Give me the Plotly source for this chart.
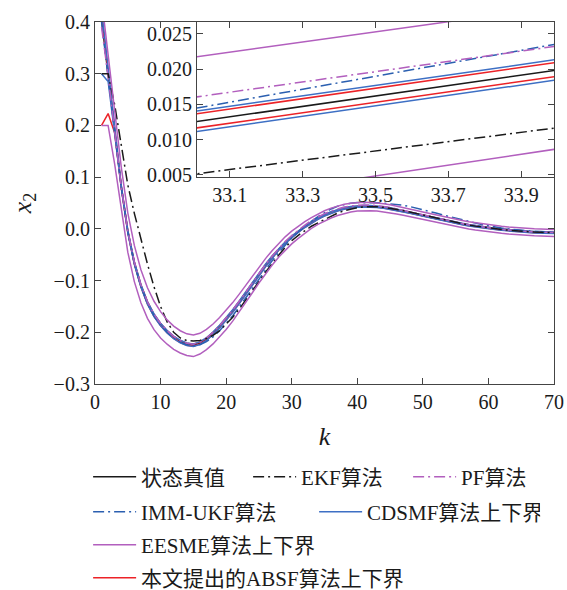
import plotly.graph_objects as go

k = list(range(1, 71))

true_x2 = [0.405, 0.298, 0.190, 0.082, -0.005, -0.066, -0.110, -0.143, -0.167, -0.185,
           -0.199, -0.210, -0.218, -0.223, -0.225, -0.221, -0.213, -0.202, -0.189, -0.175,
           -0.159, -0.142, -0.124, -0.106, -0.088, -0.071, -0.055, -0.040, -0.027, -0.0155,
           -0.0055, 0.0040, 0.0125, 0.0199, 0.0262, 0.0315, 0.0358, 0.0392, 0.0416, 0.0431,
           0.0437, 0.0435, 0.0426, 0.0411, 0.0391, 0.0367, 0.0341, 0.0313, 0.0284, 0.0255,
           0.0226, 0.0197, 0.0169, 0.0142, 0.0116, 0.0092, 0.0070, 0.0050, 0.0031, 0.0014,
           -0.0001, -0.0015, -0.0028, -0.0040, -0.0050, -0.0058, -0.0065, -0.0070, -0.0074, -0.0077]

ekf = [0.300, 0.300, 0.240, 0.160, 0.085, 0.030, -0.020, -0.068, -0.112, -0.150,
       -0.180, -0.200, -0.211, -0.216, -0.217, -0.216, -0.212, -0.206, -0.197, -0.185,
       -0.171, -0.155, -0.138, -0.120, -0.102, -0.084, -0.067, -0.051, -0.036, -0.023,
       -0.0125, -0.0030, 0.0051, 0.0117, 0.0185, 0.0250, 0.0305, 0.0350, 0.0385, 0.0410,
       0.0425, 0.0430, 0.0427, 0.0417, 0.0400, 0.0378, 0.0353, 0.0325, 0.0296, 0.0266,
       0.0236, 0.0206, 0.0177, 0.0149, 0.0122, 0.0097, 0.0074, 0.0053, 0.0034, 0.0017,
       0.0002, -0.0012, -0.0025, -0.0037, -0.0047, -0.0055, -0.0062, -0.0067, -0.0071, -0.0074]

pf = [0.390, 0.295, 0.188, 0.082, -0.004, -0.064, -0.108, -0.141, -0.165, -0.183,
      -0.197, -0.208, -0.216, -0.221, -0.223, -0.219, -0.211, -0.200, -0.187, -0.173,
      -0.157, -0.140, -0.122, -0.104, -0.086, -0.069, -0.053, -0.038, -0.0245, -0.0128,
      -0.0025, 0.0073, 0.0160, 0.0233, 0.0295, 0.0347, 0.0389, 0.0421, 0.0444, 0.0458,
      0.0463, 0.0460, 0.0450, 0.0434, 0.0413, 0.0388, 0.0361, 0.0332, 0.0302, 0.0272,
      0.0242, 0.0212, 0.0183, 0.0155, 0.0128, 0.0103, 0.0080, 0.0059, 0.0039, 0.0021,
      0.0005, -0.0009, -0.0022, -0.0034, -0.0044, -0.0052, -0.0059, -0.0064, -0.0068, -0.0071]

imm_ukf = [0.400, 0.296, 0.188, 0.081, -0.006, -0.067, -0.111, -0.144, -0.168, -0.186,
           -0.200, -0.211, -0.219, -0.224, -0.226, -0.224, -0.218, -0.209, -0.197, -0.183,
           -0.168, -0.151, -0.133, -0.115, -0.097, -0.079, -0.062, -0.046, -0.031, -0.0175,
           -0.0060, 0.0048, 0.0144, 0.0236, 0.0318, 0.0385, 0.0437, 0.0474, 0.0497, 0.0508,
           0.0511, 0.0509, 0.0504, 0.0497, 0.0487, 0.0473, 0.0455, 0.0432, 0.0404, 0.0373,
           0.0340, 0.0306, 0.0272, 0.0238, 0.0205, 0.0173, 0.0142, 0.0112, 0.0084, 0.0058,
           0.0035, 0.0015, -0.0002, -0.0016, -0.0028, -0.0038, -0.0046, -0.0053, -0.0058, -0.0062]

cdsmf_upper = [0.425, 0.310, 0.197, 0.0845, -0.0025, -0.0635, -0.1075, -0.1405, -0.1645, -0.1825,
               -0.1965, -0.2075, -0.2155, -0.2205, -0.2225, -0.2185, -0.2105, -0.1995, -0.1865, -0.1725,
               -0.1565, -0.1395, -0.1215, -0.1035, -0.0855, -0.0685, -0.0525, -0.0385, -0.0255, -0.0140,
               -0.0040, 0.0055, 0.0140, 0.0214, 0.0277, 0.0330, 0.0373, 0.0407, 0.0431, 0.0446,
               0.0452, 0.0450, 0.0441, 0.0426, 0.0406, 0.0382, 0.0356, 0.0328, 0.0299, 0.0270,
               0.0241, 0.0212, 0.0184, 0.0157, 0.0131, 0.0107, 0.0085, 0.0065, 0.0046, 0.0029,
               0.0014, 0.0000, -0.0013, -0.0025, -0.0035, -0.0043, -0.0050, -0.0055, -0.0059, -0.0062]

cdsmf_lower = [0.300, 0.285, 0.184, 0.0795, -0.0075, -0.0685, -0.1125, -0.1455, -0.1695, -0.1875,
               -0.2015, -0.2125, -0.2205, -0.2255, -0.2275, -0.2235, -0.2155, -0.2045, -0.1915, -0.1775,
               -0.1615, -0.1445, -0.1265, -0.1085, -0.0905, -0.0735, -0.0575, -0.0414, -0.0284, -0.0169,
               -0.0069, 0.0026, 0.0111, 0.0185, 0.0248, 0.0301, 0.0344, 0.0378, 0.0402, 0.0417,
               0.0423, 0.0421, 0.0412, 0.0397, 0.0377, 0.0353, 0.0327, 0.0299, 0.0270, 0.0241,
               0.0212, 0.0183, 0.0155, 0.0128, 0.0102, 0.0078, 0.0056, 0.0036, 0.0017, 0.0000,
               -0.0015, -0.0029, -0.0042, -0.0054, -0.0064, -0.0072, -0.0079, -0.0084, -0.0088, -0.0091]

eesme_upper = [0.445, 0.338, 0.230, 0.120, 0.031, -0.032, -0.079, -0.114, -0.140, -0.160,
               -0.176, -0.188, -0.197, -0.203, -0.205, -0.202, -0.1945, -0.184, -0.1715, -0.158,
               -0.1426, -0.1262, -0.1088, -0.0914, -0.0740, -0.0576, -0.0422, -0.0278, -0.0154, -0.0045,
               0.0049, 0.0138, 0.0217, 0.0289, 0.0350, 0.0401, 0.0442, 0.0474, 0.0496, 0.0509,
               0.0513, 0.0510, 0.0500, 0.0485, 0.0464, 0.0440, 0.0413, 0.0385, 0.0355, 0.0326,
               0.0297, 0.0268, 0.0239, 0.0212, 0.0185, 0.0161, 0.0138, 0.0118, 0.0098, 0.0081,
               0.0065, 0.0051, 0.0038, 0.0026, 0.0016, 0.0008, 0.0001, -0.0004, -0.0008, -0.0012]

eesme_lower = [0.200, 0.200, 0.125, 0.037, -0.045, -0.102, -0.143, -0.173, -0.195, -0.211,
               -0.223, -0.233, -0.240, -0.245, -0.247, -0.242, -0.2335, -0.2225, -0.209, -0.1945,
               -0.1785, -0.1608, -0.1422, -0.1235, -0.1048, -0.0872, -0.0705, -0.0548, -0.0412, -0.0290,
               -0.0183, -0.0082, 0.0010, 0.0087, 0.0152, 0.0210, 0.0258, 0.0297, 0.0326, 0.0344,
               0.0352, 0.0352, 0.0345, 0.0331, 0.0312, 0.0289, 0.0264, 0.0237, 0.0209, 0.0180,
               0.0152, 0.0123, 0.0096, 0.0069, 0.0044, 0.0020, -0.0002, -0.0021, -0.0040, -0.0057,
               -0.0071, -0.0085, -0.0098, -0.0110, -0.0120, -0.0128, -0.0135, -0.0140, -0.0144, -0.0147]

absf_upper = [0.415, 0.305, 0.194, 0.0838, -0.0032, -0.0642, -0.1082, -0.1412, -0.1652, -0.1832,
              -0.1972, -0.2082, -0.2162, -0.2212, -0.2232, -0.2192, -0.2112, -0.2002, -0.1872, -0.1732,
              -0.1572, -0.1402, -0.1222, -0.1042, -0.0862, -0.0692, -0.0532, -0.0389, -0.0259, -0.0144,
              -0.0044, 0.0051, 0.0136, 0.0210, 0.0273, 0.0326, 0.0369, 0.0403, 0.0427, 0.0442,
              0.0448, 0.0446, 0.0437, 0.0422, 0.0402, 0.0378, 0.0352, 0.0324, 0.0295, 0.0266,
              0.0237, 0.0208, 0.0180, 0.0153, 0.0127, 0.0103, 0.0081, 0.0061, 0.0042, 0.0025,
              0.0010, -0.0004, -0.0017, -0.0029, -0.0039, -0.0047, -0.0054, -0.0059, -0.0063, -0.0066]

absf_lower = [0.200, 0.223, 0.186, 0.0800, -0.0070, -0.0680, -0.1120, -0.1450, -0.1690, -0.1870,
              -0.2010, -0.2120, -0.2200, -0.2250, -0.2270, -0.2230, -0.2150, -0.2040, -0.1910, -0.1770,
              -0.1610, -0.1440, -0.1260, -0.1080, -0.0900, -0.0730, -0.0570, -0.0409, -0.0279, -0.0164,
              -0.0064, 0.0031, 0.0116, 0.0190, 0.0253, 0.0306, 0.0349, 0.0383, 0.0407, 0.0422,
              0.0428, 0.0426, 0.0417, 0.0402, 0.0382, 0.0358, 0.0332, 0.0304, 0.0275, 0.0246,
              0.0217, 0.0188, 0.0160, 0.0133, 0.0107, 0.0083, 0.0061, 0.0041, 0.0022, 0.0005,
              -0.0010, -0.0024, -0.0037, -0.0049, -0.0059, -0.0067, -0.0074, -0.0079, -0.0083, -0.0086]

main_xticks = [0, 10, 20, 30, 40, 50, 60, 70]
main_yticks = [-0.3, -0.2, -0.1, 0.0, 0.1, 0.2, 0.3, 0.4]
inset_xticks = [33.1, 33.3, 33.5, 33.7, 33.9]
inset_yticks = [0.005, 0.010, 0.015, 0.020, 0.025]

FONT = "Liberation Serif, Noto Sans CJK SC, serif"
BLACK = "#1a1a1a"
PURPLE = "#b25fbe"
BLUE_D = "#2b5fb0"
BLUE = "#3d6fc4"
RED = "#ec2227"
DASHDOT = "11px,4px,2px,4px"

# drawing order (bottom to top)
series = [
    (true_x2, "状态真值", BLACK, "solid", "legend", "true"),
    (absf_upper, "本文提出的ABSF算法上下界", RED, "solid", "legend4", "absf"),
    (absf_lower, "本文提出的ABSF算法上下界", RED, "solid", "legend4", "absf"),
    (cdsmf_upper, "CDSMF算法上下界", BLUE, "solid", "legend2", "cdsmf"),
    (cdsmf_lower, "CDSMF算法上下界", BLUE, "solid", "legend2", "cdsmf"),
    (imm_ukf, "IMM-UKF算法", BLUE_D, DASHDOT, "legend2", "imm"),
    (pf, "PF算法", PURPLE, DASHDOT, "legend", "pf"),
    (ekf, "EKF算法", BLACK, DASHDOT, "legend", "ekf"),
    (eesme_upper, "EESME算法上下界", PURPLE, "solid", "legend3", "eesme"),
    (eesme_lower, "EESME算法上下界", PURPLE, "solid", "legend3", "eesme"),
]

fig = go.Figure()

rank = {"true": 1, "ekf": 2, "pf": 3, "imm": 4, "cdsmf": 5, "eesme": 6, "absf": 7}
shown = set()
for vals, name, color, dash, leg, grp in series:
    show = grp not in shown
    shown.add(grp)
    fig.add_trace(go.Scatter(
        x=k, y=vals, mode="lines", name=name,
        line=dict(color=color, width=1.5, dash=dash),
        legend=leg, showlegend=show, legendgroup=grp, legendrank=rank[grp],
        xaxis="x", yaxis="y", hoverinfo="skip"))
for vals, name, color, dash, leg, grp in series:
    fig.add_trace(go.Scatter(
        x=k, y=vals, mode="lines", name=name,
        line=dict(color=color, width=1.5, dash=dash),
        legend=leg, showlegend=False, legendgroup=grp,
        xaxis="x2", yaxis="y2", hoverinfo="skip"))

axis_common = dict(showgrid=False, zeroline=False, showline=True, linecolor="#444",
                   linewidth=1.2, mirror="ticks", ticks="inside", ticklen=6,
                   tickcolor="#444", tickwidth=1.2,
                   tickfont=dict(family=FONT, size=20, color=BLACK))

legend_common = dict(orientation="h", xanchor="left", yanchor="middle",
                     bgcolor="rgba(0,0,0,0)", borderwidth=0,
                     font=dict(family=FONT, size=21, color=BLACK),
                     itemwidth=43, tracegroupgap=0, itemclick=False,
                     entrywidthmode="pixels")

fig.update_layout(
    width=567, height=590,
    margin=dict(l=95, r=13, t=22, b=206, autoexpand=False),
    paper_bgcolor="white", plot_bgcolor="white",
    showlegend=True,
    xaxis=dict(domain=[0, 1], range=[0, 70], tickvals=main_xticks, anchor="y",
               title=dict(text="<i>k</i>", font=dict(family=FONT, size=26, color=BLACK), standoff=14),
               **axis_common),
    yaxis=dict(domain=[0, 1], range=[-0.3, 0.4], tickvals=main_yticks, tickformat=".1f", anchor="x",
               title=dict(text="<i>x</i><sub>2</sub>", font=dict(family=FONT, size=26, color=BLACK), standoff=14),
               **axis_common),
    xaxis2=dict(domain=[0.2222, 1], range=[33.01, 33.99], tickvals=inset_xticks, anchor="y2",
                tickformat=".1f", **axis_common),
    yaxis2=dict(domain=[0.5718, 1], range=[0.0047, 0.0267], tickvals=inset_yticks, anchor="x2",
                tickformat=".3f", **axis_common),
    legend=dict(x=-0.015, y=-0.257, entrywidth=102, **legend_common),
    legend2=dict(x=-0.015, y=-0.354, entrywidth=168, **legend_common),
    legend3=dict(x=-0.015, y=-0.445, entrywidth=0, **legend_common),
    legend4=dict(x=-0.015, y=-0.536, entrywidth=0, **legend_common),
)

fig.write_html("out.html")
